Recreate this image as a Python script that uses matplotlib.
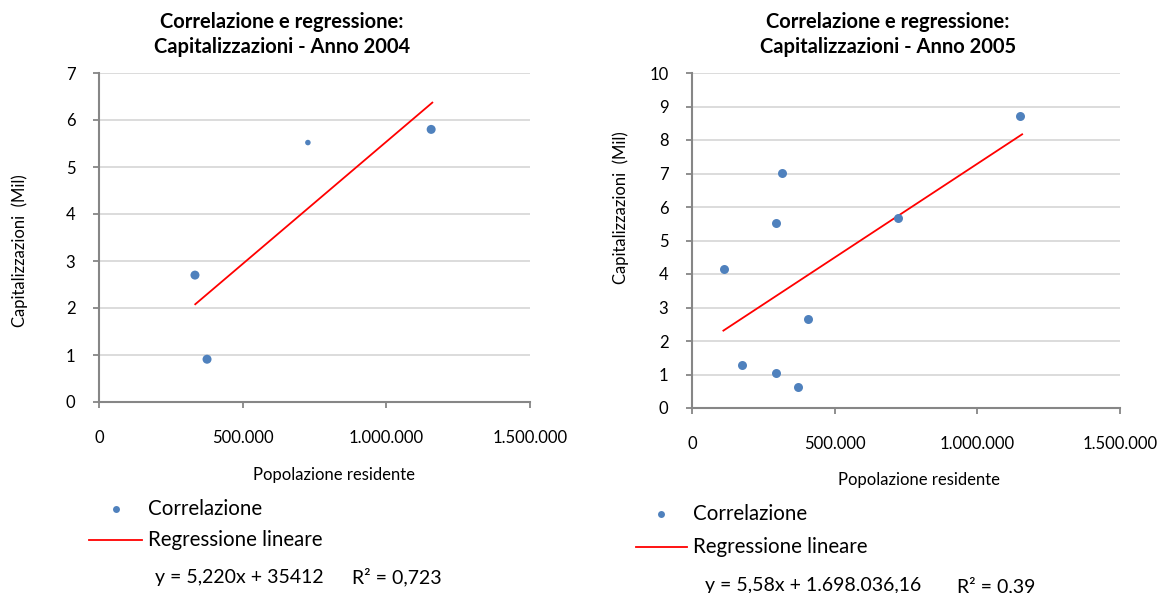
import matplotlib
matplotlib.use('Agg')
import matplotlib.pyplot as plt
from matplotlib.ticker import FuncFormatter, MultipleLocator
from matplotlib.lines import Line2D

plt.rcParams['font.family'] = ['Lato', 'DejaVu Sans']

# ---- data ----
pop_2004 = [334000, 376000, 727000, 1156000]
cap_2004 = [2.70, 0.91, 5.52, 5.80]
fit_x_2004 = [335000, 1160000]
fit_y_2004 = [2.08, 6.37]

pop_2005 = [113000, 175000, 295000, 316000, 295000, 371000, 406000, 723000, 1151000]
cap_2005 = [4.14, 1.27, 5.51, 7.02, 1.03, 0.63, 2.65, 5.67, 8.73]
fit_x_2005 = [110000, 1157000]
fit_y_2005 = [2.31, 8.17]

titles = ["Correlazione e regressione:", "Capitalizzazioni - Anno 2004", "Capitalizzazioni - Anno 2005"]
ylabel = "Capitalizzazioni  (Mil)"
xlabel = "Popolazione residente"
leg_labels = ["Correlazione", "Regressione lineare"]
eq_2004 = ["y = 5,220x + 35412", "R² = 0,723"]
eq_2005 = ["y = 5,58x + 1.698.036,16", "R² = 0,39"]

# ---- styles ----
W, H = 1160, 593
BLUE = '#4f81bd'
AXC = '#868686'
GRID = '#d9d9d9'
sizes_2004 = [42, 42, 16, 42]
TICK_FS = 12
LAB_FS = 12
TITLE_FS = 14.5
LEG_FS = 14.8
EQ_FS = 14

fig = plt.figure(figsize=(W / 100, H / 100), dpi=100)


def fx(x):
    return x / W


def fy(y):
    return 1 - y / H


def thousands(v, pos):
    return f"{int(round(v)):,}".replace(',', '.')


def make_axes(l, r, t, b, ymax):
    ax = fig.add_axes([fx(l), fy(b), (r - l) / W, (b - t) / H])
    ax.set_xlim(0, 1500000)
    ax.set_ylim(0, ymax)
    ax.xaxis.set_major_locator(MultipleLocator(500000))
    ax.yaxis.set_major_locator(MultipleLocator(1))
    ax.xaxis.set_major_formatter(FuncFormatter(thousands))
    ax.grid(axis='y', color=GRID, lw=1.3)
    ax.set_axisbelow(True)
    for s in ['top', 'right']:
        ax.spines[s].set_visible(False)
    for s in ['left', 'bottom']:
        ax.spines[s].set_color(AXC)
        ax.spines[s].set_linewidth(1.5)
    ax.tick_params(axis='both', direction='out', length=4, width=1.3, color=AXC,
                   labelsize=TICK_FS, labelcolor='black')
    ax.tick_params(axis='x', pad=16)
    ax.tick_params(axis='y', pad=13)
    ax.set_facecolor('none')
    return ax


# left chart
ax1 = make_axes(99, 530, 73, 402, 7)
ax1.scatter(pop_2004, cap_2004, s=sizes_2004, color=BLUE, zorder=3, lw=0)
ax1.plot(fit_x_2004, fit_y_2004, color='#ff0000', lw=1.3, zorder=2)

# right chart
ax2 = make_axes(692, 1120, 73, 408, 10)
ax2.scatter(pop_2005, cap_2005, s=42, color=BLUE, zorder=3, lw=0)
ax2.plot(fit_x_2005, fit_y_2005, color='#ff0000', lw=1.3, zorder=2)

# titles
for cx, t2 in [(282, titles[1]), (888, titles[2])]:
    fig.text(fx(cx), fy(22), titles[0], ha='center', va='center', fontsize=TITLE_FS, fontweight='bold')
    fig.text(fx(cx), fy(47), t2, ha='center', va='center', fontsize=TITLE_FS, fontweight='bold')

# axis labels
fig.text(fx(20), fy(251), ylabel, rotation=90, ha='center', va='center', fontsize=LAB_FS)
fig.text(fx(621), fy(208), ylabel, rotation=90, ha='center', va='center', fontsize=LAB_FS)
fig.text(fx(334), fy(475), xlabel, ha='center', va='center', fontsize=LAB_FS)
fig.text(fx(919), fy(480), xlabel, ha='center', va='center', fontsize=LAB_FS)


# legends
def legend(mx, my, lx0, lx1, ly, tx, size):
    fig.add_artist(Line2D([fx(mx)], [fy(my)], marker='o', markersize=5, color=BLUE,
                          markeredgewidth=0, transform=fig.transFigure))
    fig.add_artist(Line2D([fx(lx0), fx(lx1)], [fy(ly), fy(ly)], color='#ff0000', lw=1.3,
                          transform=fig.transFigure))
    fig.text(fx(tx), fy(my), leg_labels[0], ha='left', va='center', fontsize=size)
    fig.text(fx(tx), fy(ly), leg_labels[1], ha='left', va='center', fontsize=size)


legend(116, 509, 89, 142, 540, 148, LEG_FS)
legend(661, 514, 636, 687, 547, 693, LEG_FS)

fig.text(fx(155), fy(577), eq_2004[0], ha='left', va='center', fontsize=EQ_FS)
fig.text(fx(352), fy(577), eq_2004[1], ha='left', va='center', fontsize=EQ_FS)
fig.text(fx(705), fy(586), eq_2005[0], ha='left', va='center', fontsize=EQ_FS)
fig.text(fx(957), fy(586), eq_2005[1], ha='left', va='center', fontsize=EQ_FS)

fig.savefig('out.png', dpi=100, facecolor='white')
